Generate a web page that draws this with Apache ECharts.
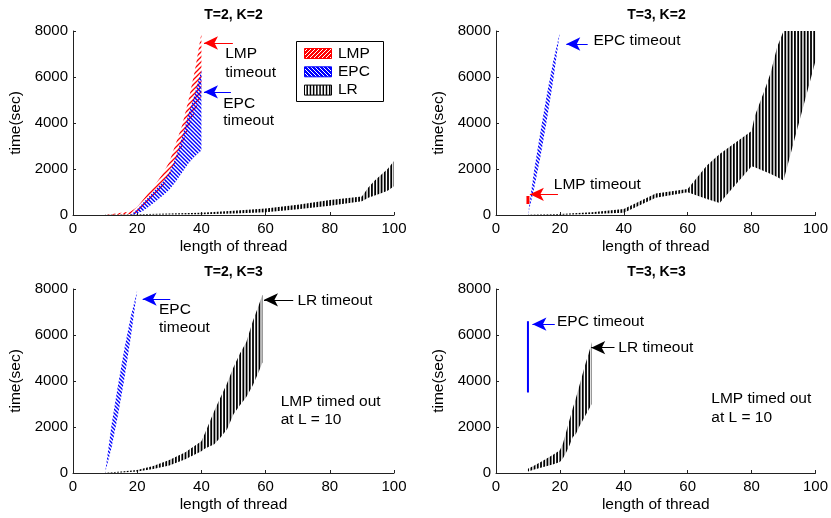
<!DOCTYPE html>
<html><head><meta charset="utf-8">
<script src="https://cdn.jsdelivr.net/npm/echarts@6/dist/echarts.min.js"></script>
<style>html,body{margin:0;padding:0;background:#fff}#c{width:831px;height:518px}</style>
</head><body><div id="c"></div>
<script>
// ---------- data ----------
const xTicks = [0, 20, 40, 60, 80, 100];
const yTicks = [0, 2000, 4000, 6000, 8000];
const panelTitles = ['T=2, K=2', 'T=3, K=2', 'T=2, K=3', 'T=3, K=3'];
const legendNames = ['LMP', 'EPC', 'LR'];

// Panel 1: T=2, K=2
const p1LmpL  = [10, 15, 18, 20, 22, 24, 26, 28, 30, 32, 34, 36, 38, 40];
const p1LmpHi = [0, 100, 150, 350, 700, 1050, 1400, 1800, 2300, 3100, 3900, 5000, 6300, 7900];
const p1LmpLo = [0, 20, 40, 100, 350, 600, 900, 1250, 1700, 2300, 3000, 3800, 4500, 5200];
const p1EpcL  = [18, 20, 22, 24, 26, 28, 30, 32, 34, 36, 38, 40];
const p1EpcHi = [0, 250, 550, 850, 1150, 1450, 1850, 2500, 3400, 4400, 5300, 6300];
const p1EpcLo = [0, 50, 200, 400, 620, 850, 1100, 1450, 1850, 2250, 2550, 2800];
const p1LrL   = [10, 20, 30, 40, 50, 60, 70, 80, 90, 92, 94, 96, 98, 100];
const p1LrHi  = [10, 30, 60, 100, 180, 280, 450, 650, 800, 1200, 1500, 1750, 2000, 2350];
const p1LrLo  = [0, 10, 20, 30, 60, 120, 250, 400, 600, 750, 850, 950, 1050, 1250];

// Panel 2: T=3, K=2
const p2LmpL  = [10];
const p2LmpHi = [830];
const p2LmpLo = [480];
const p2EpcL  = [10, 12, 14, 16, 18, 20];
const p2EpcHi = [0, 2000, 3700, 5300, 6750, 7950];
const p2EpcLo = [0, 1200, 2600, 4200, 5950, 7950];
const p2LrL   = [10, 20, 30, 40, 50, 60, 66, 70, 80, 81, 84, 86, 88, 90, 95, 100];
const p2LrHi  = [10, 40, 120, 260, 930, 1130, 2150, 2650, 3650, 4300, 5400, 6200, 7300, 8000, 8000, 8000];
const p2LrLo  = [0, 10, 40, 100, 750, 990, 700, 520, 2120, 2080, 1900, 1780, 1650, 1500, 4100, 6700];

// Panel 3: T=2, K=3
const p3EpcL  = [10, 12, 14, 16, 18, 20];
const p3EpcHi = [0, 2100, 3800, 5400, 6800, 7930];
const p3EpcLo = [0, 1100, 2500, 4100, 5900, 7930];
const p3LrL   = [10, 15, 20, 25, 30, 35, 40, 41, 44, 46, 48, 50, 52, 54, 56, 58, 59];
const p3LrHi  = [10, 60, 130, 300, 560, 900, 1380, 1700, 2700, 3300, 3900, 4600, 5200, 5700, 6600, 7350, 7750];
const p3LrLo  = [0, 20, 60, 170, 330, 600, 950, 1050, 1250, 1550, 1900, 2550, 2950, 3300, 3800, 4450, 4800];

// Panel 4: T=3, K=3
const p4EpcL  = [10];
const p4EpcHi = [6600];
const p4EpcLo = [3500];
const p4LrL   = [10, 12, 14, 16, 18, 20, 21, 22, 23, 24, 25, 26, 27, 28, 29, 30];
const p4LrHi  = [190, 330, 480, 640, 800, 990, 1300, 1800, 2300, 2800, 3250, 3750, 4250, 4750, 5200, 5700];
const p4LrLo  = [70, 150, 230, 300, 380, 480, 650, 900, 1200, 1550, 1700, 2000, 2250, 2500, 2750, 3000];

// annotations (panel, tail x, tip x, y, colour)
const arrows = [
  [0, 49.8, 40.8, 7480, '#ff0000'],
  [0, 49.2, 40.8, 5350, '#0000ff'],
  [1, 28.7, 22.0, 7435, '#0000ff'],
  [1, 19.4, 10.6, 900, '#ff0000'],
  [2, 30.3, 21.7, 7560, '#0000ff'],
  [2, 68.6, 59.5, 7530, '#000000'],
  [3, 18.4, 11.4, 6470, '#0000ff'],
  [3, 37.1, 29.8, 5450, '#000000']
];
const notes = [
  [0, 47.4, 7000, 'LMP'], [0, 47.4, 6170, 'timeout'],
  [0, 46.8, 4830, 'EPC'], [0, 46.8, 4090, 'timeout'],
  [1, 30.5, 7580, 'EPC timeout'],
  [1, 18.1, 1335, 'LMP timeout'],
  [2, 26.8, 7100, 'EPC'], [2, 26.8, 6325, 'timeout'],
  [2, 69.9, 7500, 'LR timeout'],
  [2, 64.7, 3100, 'LMP timed out'], [2, 64.7, 2300, 'at L = 10'],
  [3, 19.1, 6590, 'EPC timeout'],
  [3, 38.3, 5450, 'LR timeout'],
  [3, 67.4, 3215, 'LMP timed out'], [3, 67.4, 2415, 'at L = 10']
];

// ---------- styling ----------
const FONT = '"Liberation Sans", Arial, sans-serif';
const grids = [
  {left: 73, top: 31, width: 321, height: 184},
  {left: 496, top: 31, width: 321, height: 184},
  {left: 73, top: 289, width: 321, height: 184},
  {left: 496, top: 289, width: 321, height: 184}
];

function diagPattern(color, dir, size, lw, bg) {
  const c = document.createElement('canvas');
  c.width = size; c.height = size;
  const g = c.getContext('2d');
  if (bg) { g.fillStyle = bg; g.fillRect(0, 0, size, size); }
  g.strokeStyle = color; g.lineWidth = lw;
  g.beginPath();
  if (dir === '/') {
    g.moveTo(-1, size + 1); g.lineTo(size + 1, -1);
    g.moveTo(-1, 1); g.lineTo(1, -1);
    g.moveTo(size - 1, size + 1); g.lineTo(size + 1, size - 1);
  } else {
    g.moveTo(-1, -1); g.lineTo(size + 1, size + 1);
    g.moveTo(-1, size - 1); g.lineTo(1, size + 1);
    g.moveTo(size - 1, -1); g.lineTo(size + 1, 1);
  }
  g.stroke();
  return c;
}
function vertPattern(lw, w, n) {
  const c = document.createElement('canvas');
  c.width = w; c.height = 4;
  const g = c.getContext('2d');
  g.fillStyle = '#000';
  for (let i = 0; i <= n; i++) {
    const p = i * w / n;
    g.fillRect(p - lw / 2, 0, lw, 4);
  }
  return c;
}
const lmpImg = diagPattern('#ff0000', '/', 5, 1.3);
const epcImg = diagPattern('#0000ff', '\\', 4, 1.4);
const lrImg = vertPattern(1.8, 45, 14);

function band(gi, L, lo, hi, img, z) {
  if (L.length === 1) {
    const col = img === lmpImg ? '#ff0000' : (img === epcImg ? '#0000ff' : '#000');
    return {type: 'line', xAxisIndex: gi, yAxisIndex: gi, z: z, symbol: 'none', silent: true,
      animation: false, data: [[L[0], lo[0]], [L[0], hi[0]]],
      lineStyle: {color: col, width: gi === 1 ? 3 : 2}};
  }
  const fill = {image: img, repeat: 'repeat', x: grids[gi].left, y: 0};
  return {
    type: 'custom', xAxisIndex: gi, yAxisIndex: gi, z: z, silent: true, animation: false,
    data: L.map((x, i) => [x, lo[i], hi[i]]),
    encode: {x: 0, y: [1, 2]},
    renderItem: function (params, api) {
      if (params.dataIndex !== 0) return null;
      const pts = [];
      for (let i = 0; i < L.length; i++) pts.push(api.coord([L[i], hi[i]]));
      for (let i = L.length - 1; i >= 0; i--) pts.push(api.coord([L[i], lo[i]]));
      return {type: 'polygon', shape: {points: pts}, style: {fill: fill, stroke: null}};
    }
  };
}

const xAxes = grids.map((g, i) => ({
  type: 'value', gridIndex: i, min: xTicks[0], max: xTicks[xTicks.length - 1],
  interval: xTicks[1] - xTicks[0],
  name: 'length of thread', nameLocation: 'middle', nameGap: 24,
  nameTextStyle: {fontFamily: FONT, fontSize: 15.5, color: '#000'},
  axisLine: {show: true, onZero: false, lineStyle: {color: '#222', width: 1}},
  axisTick: {show: true, inside: true, length: 3, lineStyle: {color: '#222'}},
  axisLabel: {fontFamily: FONT, fontSize: 15, color: '#000', margin: 6, formatter: v => String(v)},
  splitLine: {show: false}
}));
const yAxes = grids.map((g, i) => ({
  type: 'value', gridIndex: i, min: yTicks[0], max: yTicks[yTicks.length - 1],
  interval: yTicks[1] - yTicks[0],
  name: 'time(sec)', nameLocation: 'middle', nameGap: 49,
  nameTextStyle: {fontFamily: FONT, fontSize: 15.5, color: '#000'},
  axisLine: {show: true, onZero: false, lineStyle: {color: '#222', width: 1}},
  axisTick: {show: true, inside: true, length: 3, lineStyle: {color: '#222'}},
  axisLabel: {fontFamily: FONT, fontSize: 15, color: '#000', margin: 5, formatter: v => String(v)},
  splitLine: {show: false}
}));

const series = [
  band(0, p1LrL, p1LrLo, p1LrHi, lrImg, 1),
  band(0, p1LmpL, p1LmpLo, p1LmpHi, lmpImg, 2),
  band(0, p1EpcL, p1EpcLo, p1EpcHi, epcImg, 3),
  band(1, p2LrL, p2LrLo, p2LrHi, lrImg, 1),
  band(1, p2LmpL, p2LmpLo, p2LmpHi, lmpImg, 2),
  band(1, p2EpcL, p2EpcLo, p2EpcHi, epcImg, 3),
  band(2, p3LrL, p3LrLo, p3LrHi, lrImg, 1),
  band(2, p3EpcL, p3EpcLo, p3EpcHi, epcImg, 3),
  band(3, p4LrL, p4LrLo, p4LrHi, lrImg, 1),
  band(3, p4EpcL, p4EpcLo, p4EpcHi, epcImg, 3)
];
[0, 1, 2, 3].forEach(gi => {
  const mine = arrows.filter(a => a[0] === gi);
  series.push({
    type: 'line', xAxisIndex: gi, yAxisIndex: gi, data: [], silent: true, animation: false, z: 5,
    markLine: {
      silent: true, animation: false, symbol: ['none', 'arrow'], symbolSize: [10, 14],
      label: {show: false},
      data: mine.map(a => [
        {coord: [a[1], a[3]], lineStyle: {color: a[4], width: 1, type: 'solid'}, itemStyle: {color: a[4]}},
        {coord: [a[2], a[3]], lineStyle: {color: a[4], width: 1, type: 'solid'}, itemStyle: {color: a[4]}}
      ])
    }
  });
});

const titleTops = [8, 8, 265, 265];
const chart = echarts.init(document.getElementById('c'), null, {renderer: 'canvas'});
chart.setOption({
  animation: false,
  backgroundColor: '#fff',
  title: panelTitles.map((t, i) => ({
    text: t, left: grids[i].left + grids[i].width / 2, top: titleTops[i], textAlign: 'center', padding: 0,
    textStyle: {fontFamily: FONT, fontSize: 14, fontWeight: 'bold', color: '#000'}
  })),
  grid: grids.map(g => Object.assign({containLabel: false}, g)),
  xAxis: xAxes,
  yAxis: yAxes,
  series: series
});

// annotations + legend
const gfx = notes.map(n => {
  const p = chart.convertToPixel({gridIndex: n[0]}, [n[1], n[2]]);
  return {type: 'text', x: p[0], y: p[1], silent: true, z: 10,
    style: {text: n[3], fill: '#000', font: '15.5px ' + FONT, verticalAlign: 'middle', align: 'left'}};
});
const lg = {x: 296, y: 41, w: 87, h: 60};
gfx.push({type: 'rect', shape: {x: lg.x + 0.5, y: lg.y + 0.5, width: lg.w, height: lg.h},
  style: {fill: '#fff', stroke: '#000', lineWidth: 1}, z: 10, silent: true});
const swImgs = [diagPattern('#ffffff', '/', 4, 1.0, '#ff0000'), diagPattern('#ffffff', '\\', 4, 1.0, '#0000ff'), vertPattern(1.5, 45, 14)];
const swBorder = ['#ff0000', '#0000ff', '#000'];
legendNames.forEach((nm, i) => {
  const cy = 53.5 + i * 18.3;
  gfx.push({type: 'rect', shape: {x: 304.5, y: cy - 5, width: 27, height: 10},
    style: {fill: {image: swImgs[i], repeat: 'repeat', x: 304, y: 0}, stroke: swBorder[i], lineWidth: 1}, z: 11, silent: true});
  gfx.push({type: 'text', x: 338, y: cy, silent: true, z: 11,
    style: {text: nm, fill: '#000', font: '15.5px ' + FONT, verticalAlign: 'middle', align: 'left'}});
});
chart.setOption({graphic: gfx});
</script>
</body></html>
